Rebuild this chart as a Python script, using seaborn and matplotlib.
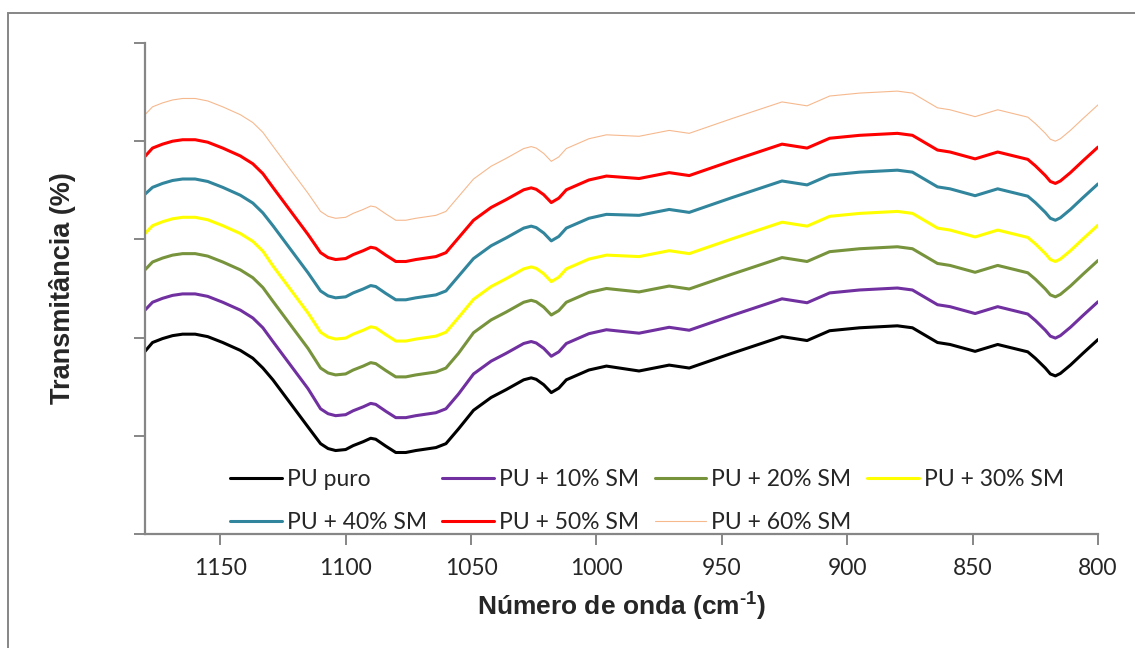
import numpy as np
import pandas as pd
import matplotlib
matplotlib.use("Agg")
import matplotlib.pyplot as plt
import seaborn as sns
from matplotlib.patches import Rectangle

# wavenumbers (cm-1)
wavenumber = [1180, 1177, 1173, 1169, 1165, 1160, 1155, 1149, 1142, 1137,
              1133, 1129, 1122, 1115, 1110, 1107, 1104, 1100, 1097, 1093,
              1090, 1088, 1084, 1080, 1076, 1072, 1064, 1060, 1055, 1049,
              1042, 1036, 1029, 1026, 1024, 1021, 1018, 1015, 1012, 1003,
              996, 983, 971, 963, 946, 926, 916, 907, 895, 880,
              874, 864, 859, 849, 840, 828, 825, 821, 819, 817,
              815, 811, 806, 800]

pu_puro = [18.6, 19.5, 19.9, 20.2, 20.35, 20.35, 20.1, 19.5, 18.7, 17.9,
           16.9, 15.7, 13.3, 10.9, 9.2, 8.7, 8.5, 8.6, 9.0, 9.4,
           9.75, 9.65, 8.95, 8.3, 8.3, 8.5, 8.8, 9.2, 10.7, 12.6,
           13.9, 14.7, 15.7, 15.9, 15.75, 15.2, 14.4, 14.85, 15.7, 16.7,
           17.1, 16.6, 17.2, 16.9, 18.4, 20.1, 19.7, 20.7, 21.0, 21.2,
           21.0, 19.5, 19.3, 18.6, 19.3, 18.55, 17.9, 16.9, 16.3, 16.1,
           16.35, 17.2, 18.4, 19.8]
pu_10 = [22.8, 23.6, 24.0, 24.3, 24.45, 24.45, 24.2, 23.6, 22.8, 22.0,
         21.0, 19.6, 17.2, 14.8, 12.75, 12.25, 12.05, 12.15, 12.55, 12.95,
         13.3, 13.2, 12.5, 11.85, 11.85, 12.05, 12.35, 12.75, 14.25, 16.3,
         17.6, 18.4, 19.4, 19.6, 19.45, 18.9, 18.1, 18.55, 19.4, 20.4,
         20.8, 20.45, 21.05, 20.75, 22.25, 23.95, 23.55, 24.55, 24.85, 25.05,
         24.85, 23.35, 23.15, 22.45, 23.15, 22.4, 21.75, 20.75, 20.15, 19.95,
         20.2, 21.05, 22.25, 23.65]
pu_20 = [26.9, 27.7, 28.1, 28.4, 28.55, 28.55, 28.3, 27.7, 26.9, 26.1,
         25.1, 23.7, 21.3, 18.9, 16.9, 16.4, 16.2, 16.3, 16.7, 17.1,
         17.45, 17.35, 16.65, 16.0, 16.0, 16.2, 16.5, 16.9, 18.4, 20.5,
         21.8, 22.6, 23.6, 23.8, 23.65, 23.1, 22.3, 22.75, 23.6, 24.6,
         25.0, 24.65, 25.25, 24.95, 26.45, 28.15, 27.75, 28.75, 29.05, 29.25,
         29.05, 27.55, 27.35, 26.65, 27.35, 26.6, 25.95, 24.95, 24.35, 24.15,
         24.4, 25.25, 26.45, 27.85]
pu_30 = [30.6, 31.4, 31.8, 32.1, 32.25, 32.25, 32.0, 31.4, 30.6, 29.8,
         28.8, 27.3, 24.9, 22.5, 20.55, 20.05, 19.85, 19.95, 20.35, 20.75,
         21.1, 21.0, 20.3, 19.65, 19.65, 19.85, 20.15, 20.55, 22.05, 23.9,
         25.2, 26.0, 27.0, 27.2, 27.05, 26.5, 25.7, 26.15, 27.0, 28.0,
         28.4, 28.25, 28.85, 28.55, 30.05, 31.75, 31.35, 32.35, 32.65, 32.85,
         32.65, 31.15, 30.95, 30.25, 30.95, 30.2, 29.55, 28.55, 27.95, 27.75,
         28.0, 28.85, 30.05, 31.45]
pu_40 = [34.6, 35.3, 35.7, 36.0, 36.15, 36.15, 35.9, 35.3, 34.5, 33.7,
         32.7, 31.4, 29.0, 26.6, 24.75, 24.25, 24.05, 24.15, 24.55, 24.95,
         25.3, 25.2, 24.5, 23.85, 23.85, 24.05, 24.35, 24.75, 26.25, 28.05,
         29.35, 30.15, 31.15, 31.35, 31.2, 30.65, 29.85, 30.3, 31.15, 32.15,
         32.55, 32.45, 33.05, 32.75, 34.25, 35.95, 35.55, 36.55, 36.85, 37.05,
         36.85, 35.35, 35.15, 34.45, 35.15, 34.4, 33.75, 32.75, 32.15, 31.95,
         32.2, 33.05, 34.25, 35.65]
pu_50 = [38.45, 39.3, 39.7, 40.0, 40.15, 40.15, 39.9, 39.3, 38.5, 37.7,
         36.7, 35.3, 32.9, 30.5, 28.65, 28.15, 27.95, 28.05, 28.45, 28.85,
         29.2, 29.1, 28.4, 27.75, 27.75, 27.95, 28.25, 28.65, 30.15, 31.95,
         33.25, 34.05, 35.05, 35.25, 35.1, 34.55, 33.75, 34.2, 35.05, 36.05,
         36.45, 36.2, 36.8, 36.5, 38.0, 39.7, 39.3, 40.3, 40.6, 40.8,
         40.6, 39.1, 38.9, 38.2, 38.9, 38.15, 37.5, 36.5, 35.9, 35.7,
         35.95, 36.8, 38.0, 39.4]
pu_60 = [42.7, 43.5, 43.9, 44.2, 44.35, 44.35, 44.1, 43.5, 42.7, 41.9,
         40.9, 39.5, 37.1, 34.7, 32.85, 32.35, 32.15, 32.25, 32.65, 33.05,
         33.4, 33.3, 32.6, 31.95, 31.95, 32.15, 32.45, 32.85, 34.35, 36.15,
         37.45, 38.25, 39.25, 39.45, 39.3, 38.75, 37.95, 38.4, 39.25, 40.25,
         40.65, 40.5, 41.1, 40.8, 42.3, 44.0, 43.6, 44.6, 44.9, 45.1,
         44.9, 43.4, 43.2, 42.5, 43.2, 42.45, 41.8, 40.8, 40.2, 40.0,
         40.25, 41.1, 42.3, 43.7]

labels = ["PU puro", "PU + 10% SM", "PU + 20% SM", "PU + 30% SM",
          "PU + 40% SM", "PU + 50% SM", "PU + 60% SM"]
series = [pu_puro, pu_10, pu_20, pu_30, pu_40, pu_50, pu_60]
colors = ["#000000", "#7030A0", "#77933C", "#FFFF00", "#31859C", "#FF0000", "#F6B98E"]
widths = [2.2, 2.2, 2.2, 2.2, 2.2, 2.2, 0.8]

x_ticks = [1150, 1100, 1050, 1000, 950, 900, 850, 800]

df = pd.concat(
    [pd.DataFrame({"wn": wavenumber, "T": s, "amostra": lab}) for s, lab in zip(series, labels)],
    ignore_index=True,
)

sns.set_style("white")
plt.rcParams["mathtext.fontset"] = "custom"
plt.rcParams["mathtext.rm"] = "Liberation Sans:bold"
plt.rcParams["mathtext.bf"] = "Liberation Sans:bold"
GRAY = "#868686"

fig = plt.figure(figsize=(11.35, 6.48), dpi=100)
ax = fig.add_axes([145 / 1135, 1 - 534 / 648, (1098 - 145) / 1135, (534 - 43) / 648])

for lab, col, lw in zip(labels, colors, widths):
    sns.lineplot(data=df[df["amostra"] == lab], x="wn", y="T", color=col,
                 linewidth=lw, sort=False, estimator=None, label=lab, ax=ax,
                 solid_joinstyle="round", solid_capstyle="round")

ax.set_xlim(1180, 800)
ax.set_ylim(0, 50)
ax.set_xticks(x_ticks)
ax.set_xticklabels([str(t) for t in x_ticks], fontfamily="Lato", fontsize=16.5)
ax.set_yticks(np.arange(0, 51, 10))
ax.set_yticklabels([])
ax.tick_params(axis="both", direction="out", length=8, width=1.4, color=GRAY,
               left=True, bottom=True)
ax.tick_params(axis="x", pad=9)

for side in ["top", "right"]:
    ax.spines[side].set_visible(False)
for side in ["left", "bottom"]:
    ax.spines[side].set_color(GRAY)
    ax.spines[side].set_linewidth(1.6)

ax.set_xlabel("Número de onda (cm$^{\\text{-1}}$)", fontfamily="Liberation Sans",
              fontweight="bold", fontsize=19)
ax.xaxis.set_label_coords(0.5, -0.145)
ax.xaxis.label.set_va("center")
ax.set_ylabel("Transmitância (%)", fontfamily="Liberation Sans", fontweight="bold", fontsize=19.5)
ax.yaxis.set_label_coords(-0.087, 0.5)
ax.yaxis.label.set_va("center")

handles, labs = ax.get_legend_handles_labels()
order = [0, 4, 1, 5, 2, 6, 3]
leg = ax.legend([handles[i] for i in order], [labs[i] for i in order], ncol=4,
                loc="upper left", bbox_to_anchor=((230 - 145) / 953, (534 - 469) / 491),
                frameon=False, borderpad=0, borderaxespad=0, handlelength=2.25,
                handletextpad=0.22, columnspacing=0.68, labelspacing=0.95,
                prop={"family": "Lato", "size": 16.5})

fig.patches.append(Rectangle((7.5 / 1135, -0.05), 1.2, 1.05 - 13 / 648,
                             transform=fig.transFigure, fill=False,
                             edgecolor=GRAY, linewidth=1.4))

fig.savefig("out.png", dpi=100)
